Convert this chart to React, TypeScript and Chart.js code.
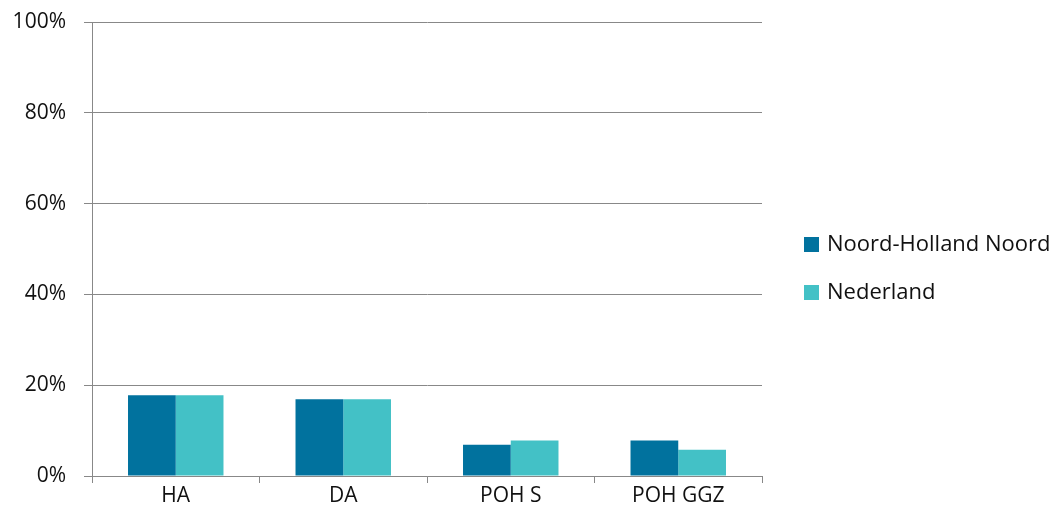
import React, { useEffect, useRef } from "react";
import { Chart, registerables } from "chart.js";

Chart.register(...registerables);

const categories = ["HA", "DA", "POH S", "POH GGZ"];
const noordHollandNoord = [17.8, 16.9, 6.9, 7.8];
const nederland = [17.8, 16.9, 7.8, 5.8];
const seriesNames = ["Noord-Holland Noord", "Nederland"];
const colors = ["#01729E", "#43C1C6"];
const yTicks = [0, 20, 40, 60, 80, 100];

const FONT = "'Open Sans', 'Noto Sans', sans-serif";

const legendPlugin = {
  id: "customLegend",
  afterDraw(chart: any) {
    const ctx = chart.ctx;
    ctx.save();
    const x = 804;
    const ys = [244, 292];
    chart.data.datasets.forEach((ds: any, i: number) => {
      ctx.fillStyle = ds.backgroundColor;
      ctx.fillRect(x, ys[i] - 7, 15, 15);
      ctx.fillStyle = "#111";
      ctx.font = `22px ${FONT}`;
      ctx.textBaseline = "middle";
      ctx.textAlign = "left";
      ctx.fillText(ds.label, x + 23, ys[i] + 1);
    });
    ctx.restore();
  },
};

export default function App() {
  const ref = useRef<HTMLCanvasElement>(null);
  useEffect(() => {
    document.body.style.margin = "0";
    const chart = new Chart(ref.current!, {
      type: "bar",
      data: {
        labels: categories,
        datasets: [
          { label: seriesNames[0], data: noordHollandNoord, backgroundColor: colors[0] },
          { label: seriesNames[1], data: nederland, backgroundColor: colors[1] },
        ],
      },
      options: {
        animation: false,
        responsive: false,
        maintainAspectRatio: false,
        layout: { padding: { top: 22, right: 301, bottom: 0, left: 0 } },
        datasets: { bar: { categoryPercentage: 0.57, barPercentage: 1 } },
        plugins: { legend: { display: false }, tooltip: { enabled: false } },
        scales: {
          x: {
            grid: {
              offset: true,
              drawOnChartArea: false,
              drawTicks: true,
              tickLength: 7,
              color: "#888888",
            },
            border: { color: "#888888", width: 1 },
            ticks: { color: "#111", font: { family: FONT, size: 21 }, padding: 0 },
            afterFit(scale: any) {
              scale.height = 44;
              scale.paddingLeft = 0;
              scale.paddingRight = 0;
            },
          },
          y: {
            min: 0,
            max: 100,
            afterBuildTicks(scale: any) {
              scale.ticks = yTicks.map((v) => ({ value: v }));
            },
            grid: { color: "#888888", tickLength: 8, lineWidth: 1 },
            border: { color: "#888888", width: 1 },
            ticks: {
              color: "#111",
              font: { family: FONT, size: 21 },
              padding: 18,
              callback: (v: any) => `${v}%`,
            },
            afterFit(scale: any) {
              scale.width = 92;
              scale.paddingTop = 0;
              scale.paddingBottom = 0;
            },
          },
        },
      },
      plugins: [legendPlugin],
    });
    return () => chart.destroy();
  }, []);
  return (
    <div style={{ position: "absolute", left: 0, top: 0, width: 1063, height: 520 }}>
      <canvas ref={ref} width={1063} height={520} />
    </div>
  );
}
